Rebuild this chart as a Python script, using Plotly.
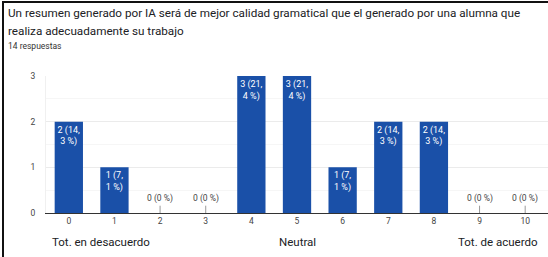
import plotly.graph_objects as go

categories = ["0", "1", "2", "3", "4", "5", "6", "7", "8", "9", "10"]
counts = [2, 1, 0, 0, 3, 3, 1, 2, 2, 0, 0]
total_responses = 14
title_lines = [
    "Un resumen generado por IA será de mejor calidad gramatical que el generado por una alumna que",
    "realiza adecuadamente su trabajo",
]
subtitle = "14 respuestas"
scale_labels = ["Tot. en desacuerdo", "Neutral", "Tot. de acuerdo"]
y_ticks = [0, 1, 2, 3]

BLUE = "#1a50a8"
W, H = 548, 257
ML, MR, MT, MB = 46, 0, 76, 44
PW, PH = W - ML - MR, H - MT - MB


def px_x(px):
    return (px - ML) / PW


def px_y(py):
    return (H - MB - py) / PH


def label(v):
    if v == 0:
        return "0 (0 %)"
    pct = f"{v / total_responses * 100:.1f}"
    a, b = pct.split(".")
    return f"{v} ({a},<br>{b} %)"


labels = [label(v) if v > 0 else "" for v in counts]
xs = list(range(len(categories)))

fig = go.Figure()
fig.add_trace(go.Bar(
    x=xs, y=counts, marker=dict(color=BLUE, line=dict(width=0)),
    width=0.62, text=labels, texttemplate="%{text}",
    textposition="inside", insidetextanchor="end", constraintext="none",
    textfont=dict(color="white", size=9, family="Roboto"),
    hoverinfo="skip",
))

shapes = []
annotations = []
for x, v in zip(xs, counts):
    if v == 0:
        shapes.append(dict(type="line", xref="x", yref="y", x0=x, x1=x, y0=0, y1=0.16,
                           line=dict(color="#9a9a9a", width=1)))
        annotations.append(dict(x=x, y=0, xref="x", yref="y", yshift=15, text=label(v),
                                showarrow=False, font=dict(size=8.5, color="#444", family="Roboto")))

# title
annotations.append(dict(x=px_x(6), y=px_y(13), xref="paper", yref="paper", text=title_lines[0],
                        xanchor="left", yanchor="middle", showarrow=False,
                        font=dict(size=11.7, color="#202124", family="Roboto")))
annotations.append(dict(x=px_x(6), y=px_y(31), xref="paper", yref="paper", text=title_lines[1],
                        xanchor="left", yanchor="middle", showarrow=False,
                        font=dict(size=11.7, color="#202124", family="Roboto")))
annotations.append(dict(x=px_x(6), y=px_y(46), xref="paper", yref="paper", text=subtitle,
                        xanchor="left", yanchor="middle", showarrow=False,
                        font=dict(size=8.5, color="#333", family="Roboto")))
# scale labels
annotations.append(dict(x=px_x(50), y=px_y(242), xref="paper", yref="paper", text=scale_labels[0],
                        xanchor="left", yanchor="middle", showarrow=False,
                        font=dict(size=11.5, color="#202124", family="Roboto")))
annotations.append(dict(x=5, y=px_y(242), xref="x", yref="paper", text=scale_labels[1],
                        xanchor="center", yanchor="middle", showarrow=False,
                        font=dict(size=11.5, color="#202124", family="Roboto")))
annotations.append(dict(x=px_x(540), y=px_y(242), xref="paper", yref="paper", text=scale_labels[2],
                        xanchor="right", yanchor="middle", showarrow=False,
                        font=dict(size=11.5, color="#202124", family="Roboto")))

# border lines
shapes.append(dict(type="line", xref="paper", yref="paper", x0=px_x(2), x1=px_x(W),
                   y0=px_y(2), y1=px_y(2), line=dict(color="#111", width=2), layer="above"))
shapes.append(dict(type="line", xref="paper", yref="paper", x0=px_x(3), x1=px_x(3),
                   y0=px_y(1), y1=px_y(H), line=dict(color="#111", width=2), layer="above"))

fig.update_layout(
    width=W, height=H, margin=dict(l=ML, r=MR, t=MT, b=MB),
    paper_bgcolor="white", plot_bgcolor="white", showlegend=False,
    font=dict(family="Roboto", color="#444"),
    shapes=shapes, annotations=annotations, bargap=0.38,
)
fig.update_xaxes(
    range=[-0.5, 10.5], tickmode="array", tickvals=xs, ticktext=categories,
    showgrid=False, showline=True, linecolor="#333", linewidth=1, zeroline=False,
    tickfont=dict(size=8.5, color="#444"), ticks="", fixedrange=True,
)
fig.update_yaxes(
    range=[0, 3], tickvals=y_ticks, showgrid=True, gridcolor="#ebebeb", gridwidth=1,
    zeroline=False, showline=True, linecolor="#f0f0f0",
    minor=dict(dtick=0.5, showgrid=True, gridcolor="#f6f6f6"),
    tickfont=dict(size=8.5, color="#444"), ticklabelstandoff=8, fixedrange=True,
)
fig.write_html(
    "out.html",
    config={"displayModeBar": False},
    post_script="document.body.style.margin='0';document.body.style.overflow='hidden';",
)
